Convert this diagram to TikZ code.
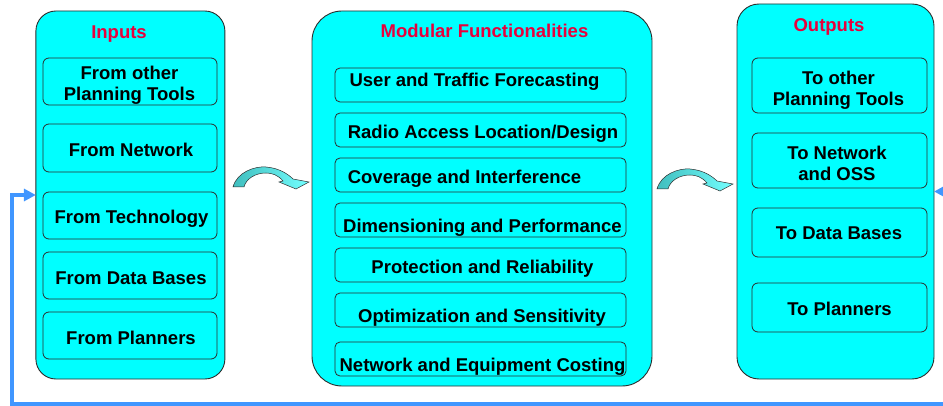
\documentclass[tikz,border=0pt]{standalone}
\usepackage{fontspec}
\setmainfont{Liberation Sans}
\usetikzlibrary{arrows.meta,calc}
\definecolor{boxcyan}{RGB}{0,255,255}
\definecolor{titlered}{RGB}{232,0,60}
\definecolor{fbblue}{RGB}{64,150,255}
\definecolor{arrdark}{RGB}{64,190,190}
\definecolor{arrlight}{RGB}{115,255,255}
\definecolor{edgegray}{RGB}{45,45,45}
\tikzset{
  outerbox/.style={draw=edgegray, fill=boxcyan, line width=0.9pt, inner sep=0pt, outer sep=0pt},
  innerbox/.style={draw=edgegray, fill=boxcyan, line width=0.8pt, rounded corners=6pt, inner sep=0pt, outer sep=0pt},
  lbl/.style={font=\fontsize{18.5}{20.5}\selectfont\bfseries, align=center, inner sep=0pt, text=black},
  ttl/.style={lbl, text=titlered},
  fb/.style={draw=fbblue, line width=3.2pt, {Triangle[length=12pt,width=12pt]}-{Triangle[length=12pt,width=12pt]}},
  arrowshape/.style={draw=edgegray, line width=0.5pt, left color=arrdark, right color=arrlight},
  curvarrow/.pic={
    \path[arrowshape] (0,0) .. controls (4,-15) and (22,-21) .. (33,-20)
      .. controls (46,-19) and (55,-13) .. (60,-8) -- (76,-5) -- (63,2) -- (46,-5) -- (50,-6)
      .. controls (45,-12) and (39,-14) .. (33,-14)
      .. controls (22,-14) and (13,-8) .. (11,0) -- cycle;
  }
}
\begin{document}
\begin{tikzpicture}[x=1pt,y=-1pt]
\useasboundingbox (0,0) rectangle (943,406);

% outer boxes
\node[outerbox, rounded corners=20pt, minimum width=189pt, minimum height=368pt] (inputs) at (130.4,195) {};
\node[outerbox, rounded corners=30pt, minimum width=340pt, minimum height=375pt] (modular) at (482,198.5) {};
\node[outerbox, rounded corners=22pt, minimum width=197pt, minimum height=375pt] (outputs) at (835.5,191.5) {};

% titles
\node[ttl, anchor=base] (tin) at (119,38.6) {Inputs};
\node[ttl, anchor=base] (tmod) at (484.5,37.2) {Modular Functionalities};
\node[ttl, anchor=base] (tout) at (829,31.6) {Outputs};

% input boxes
\node[innerbox, minimum width=174pt, minimum height=47pt] (in1) at (130,81.5) {};
\node[innerbox, minimum width=174pt, minimum height=48pt] (in2) at (130,148) {};
\node[innerbox, minimum width=174pt, minimum height=47pt] (in3) at (130,215.5) {};
\node[innerbox, minimum width=174pt, minimum height=47pt] (in4) at (130,275.5) {};
\node[innerbox, minimum width=174pt, minimum height=47pt] (in5) at (130,335.5) {};
\node[lbl] (tin1) at (129.5,85.2) {From other\\Planning Tools};
\node[lbl, anchor=base] (tin2) at (131,156.6) {From Network};
\node[lbl, anchor=base] (tin3) at (131.5,223.6) {From Technology};
\node[lbl, anchor=base] (tin4) at (131,284.6) {From Data Bases};
\node[lbl, anchor=base] (tin5) at (131,344.6) {From Planners};

% modular boxes
\foreach \n/\y in {m1/85, m2/130, m3/175, m4/220, m5/265, m6/310, m7/359}
  \node[innerbox, rounded corners=5pt, minimum width=291pt, minimum height=34pt] (\n) at (480.5,\y) {};
\node[lbl, anchor=base] (tm1) at (474.5,86.3) {User and Traffic Forecasting};
\node[lbl, anchor=base] (tm2) at (483,138.3) {Radio Access Location/Design};
\node[lbl, anchor=base] (tm3) at (464.5,183.3) {Coverage and Interference};
\node[lbl, anchor=base] (tm4) at (482.5,232.6) {Dimensioning and Performance};
\node[lbl, anchor=base] (tm5) at (482.5,273.3) {Protection and Reliability};
\node[lbl, anchor=base] (tm6) at (482,322.6) {Optimization and Sensitivity};
\node[lbl, anchor=base] (tm7) at (482.5,371.4) {Network and Equipment Costing};

% output boxes
\node[innerbox, minimum width=175pt, minimum height=55pt] (o1) at (839.5,85.5) {};
\node[innerbox, minimum width=175pt, minimum height=55pt] (o2) at (839.5,160.5) {};
\node[innerbox, minimum width=175pt, minimum height=49pt] (o3) at (839.5,232.5) {};
\node[innerbox, minimum width=175pt, minimum height=49pt] (o4) at (839.5,307.5) {};
\node[lbl] (to1) at (838.5,90.2) {To other\\Planning Tools};
\node[lbl] (to2) at (837,163.3) {To Network\\and OSS};
\node[lbl, anchor=base] (to3) at (839,239.6) {To Data Bases};
\node[lbl, anchor=base] (to4) at (839.5,315.6) {To Planners};

% curved block arrows
\pic at (233,187) {curvarrow};
\pic at (657,189) {curvarrow};

% feedback loop
\draw[fb] (outputs.east) -- ++(12,0) |- (12,404) |- (inputs.west);
\end{tikzpicture}
\end{document}
